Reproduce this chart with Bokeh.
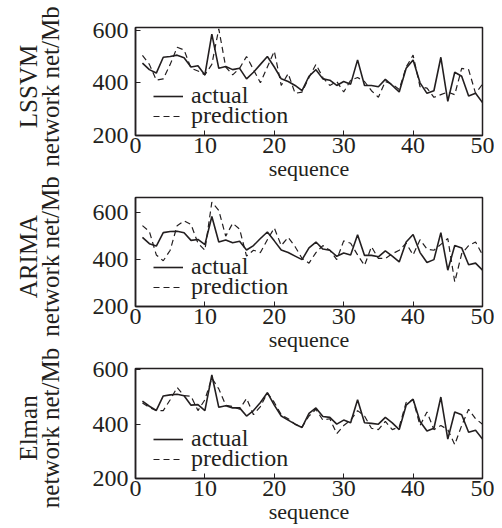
import math
from bokeh.plotting import figure
from bokeh.layouts import column, row
from bokeh.models import Range1d, FixedTicker, Legend, LegendItem
from bokeh.core.properties import value
from bokeh.embed import file_html
from bokeh.resources import INLINE

seq = list(range(1, 51))

lssvm_actual = [475, 450, 437, 497, 500, 505, 495, 460, 465, 430,
                585, 455, 462, 450, 455, 415, 440, 470, 500, 460,
                415, 405, 390, 370, 425, 450, 415, 410, 390, 405,
                395, 487, 390, 390, 385, 413, 390, 365, 455, 487,
                400, 360, 370, 497, 330, 440, 425, 350, 360, 325]
lssvm_pred = [504, 470, 410, 415, 470, 535, 525, 455, 445, 430,
              470, 605, 460, 430, 455, 500, 450, 400, 460, 520,
              390, 435, 360, 365, 420, 470, 420, 390, 405, 365,
              410, 420, 405, 370, 345, 405, 395, 375, 460, 505,
              385, 380, 345, 355, 365, 355, 455, 450, 360, 395]

arima_actual = [495, 468, 458, 515, 520, 521, 515, 482, 486, 464,
                584, 475, 484, 472, 478, 441, 460, 490, 518, 480,
                441, 430, 415, 400, 450, 475, 445, 440, 414, 428,
                420, 506, 418, 418, 412, 437, 415, 390, 475, 507,
                430, 388, 400, 515, 355, 460, 450, 378, 385, 355]
arima_pred = [545, 520, 420, 395, 440, 545, 565, 550, 470, 440,
              645, 610, 500, 555, 530, 415, 440, 430, 485, 535,
              460, 495, 455, 405, 385, 430, 460, 440, 400, 480,
              470, 420, 375, 455, 405, 405, 425, 440, 470, 420,
              485, 445, 440, 465, 490, 305, 425, 460, 475, 420]

elman_actual = [485, 466, 451, 504, 508, 510, 505, 470, 472, 450,
                581, 462, 468, 460, 460, 430, 450, 480, 516, 470,
                430, 415, 400, 388, 440, 460, 428, 425, 400, 415,
                405, 490, 405, 403, 400, 425, 405, 380, 470, 492,
                410, 375, 385, 500, 345, 445, 435, 370, 378, 345]
elman_pred = [478, 462, 450, 450, 490, 535, 505, 503, 450, 490,
              570, 530, 470, 465, 455, 495, 435, 465, 515, 480,
              435, 420, 400, 390, 430, 455, 415, 420, 365, 395,
              415, 450, 430, 385, 380, 410, 380, 390, 480, 490,
              395, 445, 380, 395, 380, 325, 395, 455, 420, 400]

models = ["LSSVM", "ARIMA", "Elman"]
y_unit_label = "network net/Mb"
y_max = [610, 665, 605]
x_ticks = [0, 10, 20, 30, 40, 50]
y_ticks = [200, 400, 600]

FONT = "Liberation Serif"
INK = "#231f20"

LABEL_W = 60
PANEL_W = 434
# (height, top border, bottom border) per panel
panel_geom = [(183, 27, 44), (171, 14, 45), (172, 14, 45)]


def make_panel(actual, pred, ymax, height, top, bottom):
    p = figure(width=PANEL_W, height=height,
               x_range=Range1d(0, 50), y_range=Range1d(200, ymax),
               output_backend="svg", toolbar_location=None,
               min_border_left=135 - LABEL_W, min_border_right=12,
               min_border_top=top, min_border_bottom=bottom)
    r1 = p.line(seq, actual, line_color=INK, line_width=1.6)
    r2 = p.line(seq, pred, line_color=INK, line_width=1.2, line_dash="6 4")
    p.xgrid.visible = False
    p.ygrid.visible = False
    p.outline_line_color = INK
    p.outline_line_width = 1.5
    p.background_fill_color = "white"
    p.border_fill_color = "white"

    for ax in (p.xaxis[0], p.yaxis[0]):
        ax.axis_line_color = INK
        ax.axis_line_width = 1.5
        ax.major_tick_in = 5
        ax.major_tick_out = 0
        ax.major_tick_line_color = INK
        ax.minor_tick_line_color = None
        ax.major_label_text_font = FONT
        ax.major_label_text_font_size = "24px"
        ax.major_label_text_color = INK
        ax.axis_label_text_font = FONT
        ax.axis_label_text_font_style = "normal"
        ax.axis_label_text_color = INK

    p.xaxis.ticker = FixedTicker(ticks=x_ticks)
    p.yaxis.ticker = FixedTicker(ticks=y_ticks)
    p.xaxis.major_label_standoff = 2
    p.yaxis.major_label_standoff = 7
    p.xaxis.axis_label = "sequence"
    p.xaxis.axis_label_text_font_size = "22px"
    p.xaxis.axis_label_standoff = 0

    for label, rend, ypos in (("actual", r1, 24), ("prediction", r2, 4)):
        lg = Legend(items=[LegendItem(label=label, renderers=[rend])],
                    location=(16, ypos))
        lg.background_fill_alpha = 0
        lg.border_line_alpha = 0
        lg.label_text_font = FONT
        lg.label_text_font_size = "24px"
        lg.label_text_color = INK
        lg.glyph_width = 30
        lg.label_standoff = 8
        lg.padding = 2
        lg.margin = 0
        p.add_layout(lg)
    return p


panels = []
series = [(lssvm_actual, lssvm_pred), (arima_actual, arima_pred), (elman_actual, elman_pred)]
for (a, pr), ym, (h, t, b) in zip(series, y_max, panel_geom):
    panels.append(make_panel(a, pr, ym, h, t, b))

total_h = sum(g[0] for g in panel_geom)
lab = figure(width=LABEL_W, height=total_h, x_range=Range1d(0, LABEL_W),
             y_range=Range1d(total_h, 0), output_backend="svg",
             toolbar_location=None, x_axis_type=None, y_axis_type=None,
             min_border_left=0, min_border_right=0, min_border_top=0,
             min_border_bottom=0)
lab.grid.visible = False
lab.outline_line_color = None
lab.background_fill_color = "white"
lab.border_fill_color = "white"

centers = []
offset = 0
for h, t, b in panel_geom:
    centers.append(offset + t + (h - t - b) / 2 + 3)
    offset += h

lab.text(x=[28] * 3, y=centers, text=models, angle=math.pi / 2,
         text_font=value(FONT), text_font_size="25px", text_color=INK,
         text_align="center", text_baseline="middle")
lab.text(x=[50] * 3, y=centers, text=[y_unit_label] * 3, angle=math.pi / 2,
         text_font=value(FONT), text_font_size="25px", text_color=INK,
         text_align="center", text_baseline="middle")

layout = row(lab, column(*panels, spacing=0), spacing=0)
open("out.html", "w").write(file_html(layout, INLINE))
